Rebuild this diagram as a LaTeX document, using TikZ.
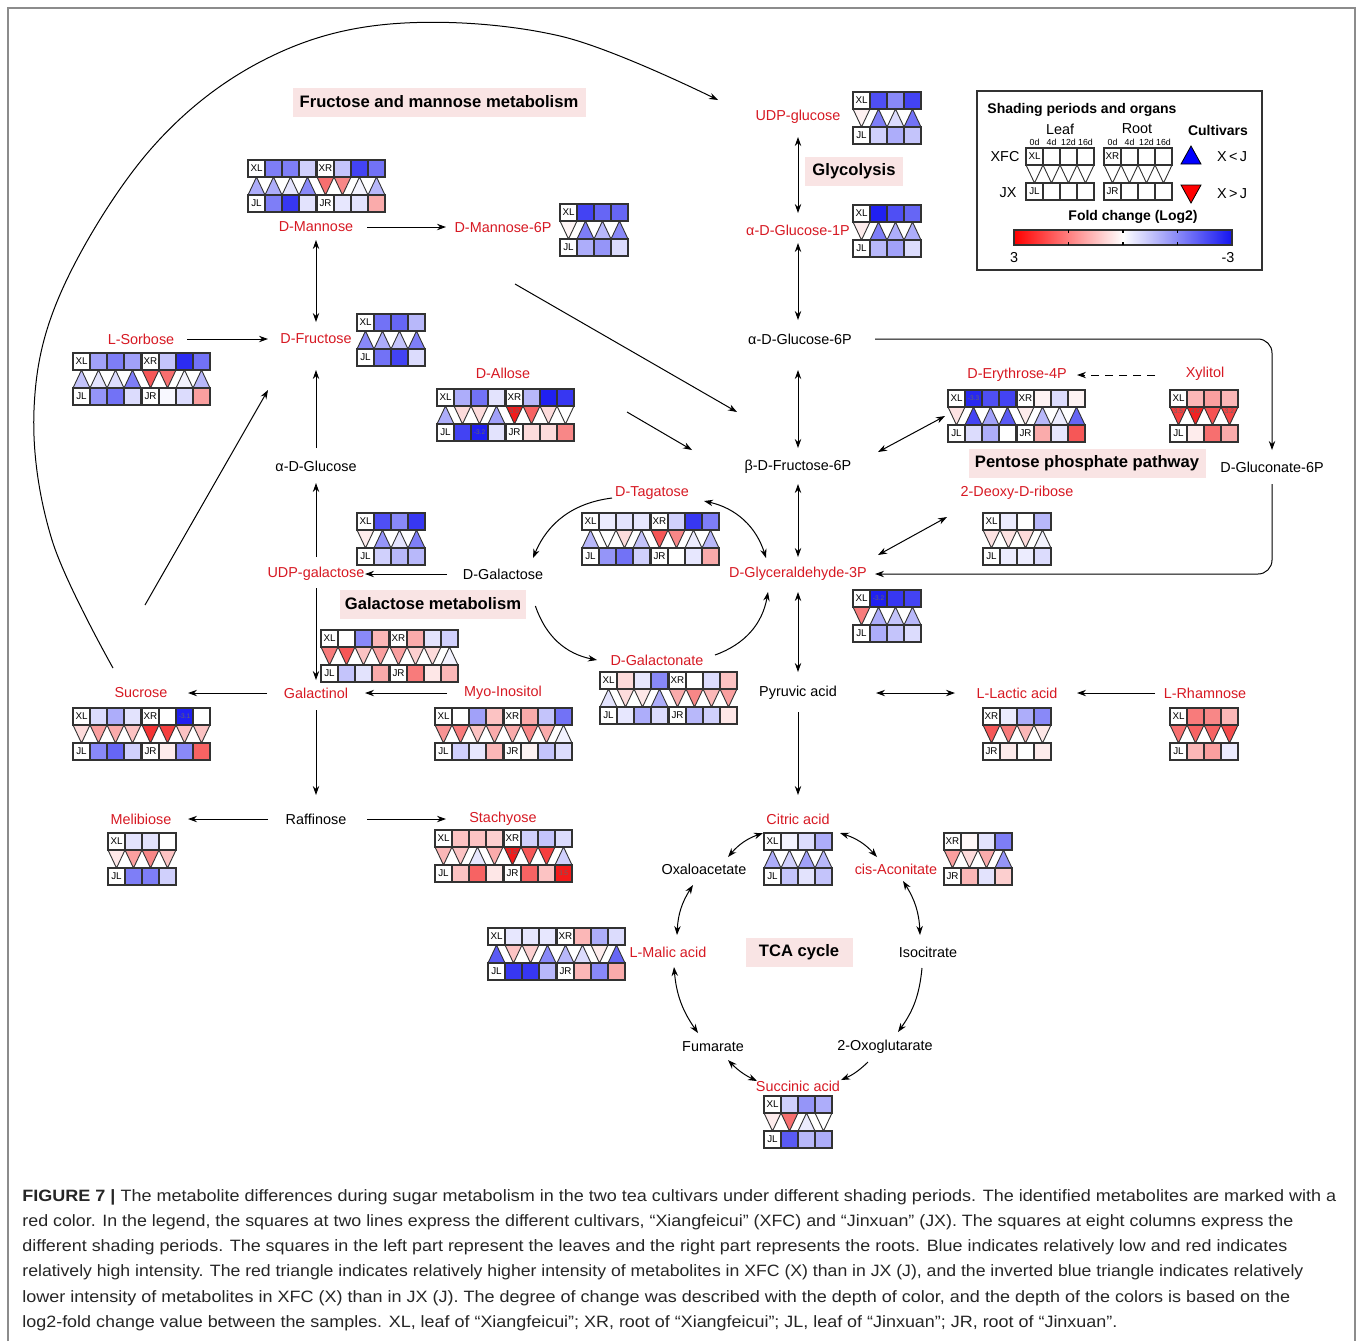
\documentclass[tikz,border=0pt]{standalone}
\usepackage{fontspec}
\setmainfont{Liberation Sans}
\usepackage{graphicx}
\usetikzlibrary{arrows.meta,calc}
\definecolor{mred}{RGB}{215,25,35}
\definecolor{hb}{RGB}{20,20,240}
\definecolor{hr}{RGB}{242,15,15}
\definecolor{hdrpink}{RGB}{249,228,228}
\definecolor{cellc}{RGB}{50,50,50}
\newcommand\fs[1]{\fontsize{#1}{#1}\selectfont}
\tikzset{
 lab/.style={inner sep=0pt, font=\fs{7.2}},
 met/.style={lab, text=mred},
 cpd/.style={lab, text=black},
 hdrbox/.style={fill=hdrpink, font=\bfseries\fs{8.3}, inner sep=0pt, minimum height=14.5pt},
 ar/.style={-{Stealth[length=4.5pt,width=3.2pt]}, line width=0.5pt},
 dar/.style={{Stealth[length=4.5pt,width=3.2pt]}-{Stealth[length=4.5pt,width=3.2pt]}, line width=0.5pt},
 cellb/.style={draw=cellc, line width=0.55pt},
 tri/.style={draw=cellc, line width=0.45pt, line join=miter},
 cl/.style={font=\fs{4.9}, inner sep=0pt},
 valtxt/.style={font=\fs{3.3}, inner sep=0pt, text=black!60},
 capt/.style={anchor=base west, inner sep=0pt, font=\fs{8.2}, text=black!85},
}
% heat-map group: x, y, top label, bottom label, top colours, triangles, bottom colours
\newcommand\hmg[7]{%
\begin{scope}[shift={(#1,#2)}]
 \foreach \d/\c [count=\i from 0] in {#6}{%
   \if\d U%
     \filldraw[tri,fill=\c] (\i*17,35) -- ++(17,0) -- ++(-8.5,-18) -- cycle;
   \else
     \filldraw[tri,fill=\c] (\i*17,17) -- ++(17,0) -- ++(-8.5,18) -- cycle;
   \fi
 }
 \filldraw[cellb,fill=white] (0,0) rectangle (17,17);
 \node[cl] at (8.5,8.5) {#3};
 \foreach \c [count=\i] in {#5}{\filldraw[cellb,fill=\c] (\i*17,0) rectangle ++(17,17);}
 \filldraw[cellb,fill=white] (0,35) rectangle (17,52);
 \node[cl] at (8.5,43.5) {#4};
 \foreach \c [count=\i] in {#7}{\filldraw[cellb,fill=\c] (\i*17,35) rectangle ++(17,17);}
 \draw[draw=cellc, line width=0.75pt] (0,0) rectangle (68,17) (0,35) rectangle (68,52);
\end{scope}}

\begin{document}
\begin{tikzpicture}[x=0.5pt,y=-0.5pt]
\useasboundingbox (0,0) rectangle (1358,1341);
\fill[white] (0,0) rectangle (1358,1341);
\draw[black!45, line width=0.6pt] (8,1341) -- (8,8) -- (1355,8) -- (1355,1341);

% ---------- headers
\node[hdrbox, minimum width=146.5pt] (hfm) at (439,102) {Fructose and mannose metabolism};
\node[hdrbox, minimum width=49pt] (hgly) at (854,171) {Glycolysis};
\node[hdrbox, minimum width=118.5pt] (hppp) at (1087,463) {Pentose phosphate pathway};
\node[hdrbox, minimum width=93pt] (hgal) at (433,604) {Galactose metabolism};
\node[hdrbox, minimum width=53.5pt] (htca) at (799,952) {TCA cycle};

% ---------- metabolite labels
\node[met] (udpglc) at (798,117) {UDP-glucose};
\node[met] (g1p) at (798,230) {α-D-Glucose-1P};
\node[met] (man) at (316,227) {D-Mannose};
\node[met] (man6p) at (503,228) {D-Mannose-6P};
\node[met] (sor) at (141,339) {L-Sorbose};
\node[met] (fru) at (316,339) {D-Fructose};
\node[cpd] (g6p) at (800,339) {α-D-Glucose-6P};
\node[met] (allose) at (503,373) {D-Allose};
\node[met] (e4p) at (1017,375) {D-Erythrose-4P};
\node[met] (xyl) at (1205,374) {Xylitol};
\node[cpd] (aglc) at (316,466) {α-D-Glucose};
\node[cpd] (f6p) at (798,467) {β-D-Fructose-6P};
\node[cpd] (glc6p) at (1272,467) {D-Gluconate-6P};
\node[met] (tag) at (652,493) {D-Tagatose};
\node[met] (deoxy) at (1017,493) {2-Deoxy-D-ribose};
\node[met] (udpgal) at (316,574) {UDP-galactose};
\node[cpd] (gal) at (503,574) {D-Galactose};
\node[met] (g3p) at (798,574) {D-Glyceraldehyde-3P};
\node[met] (galn) at (657,660) {D-Galactonate};
\node[met] (suc) at (141,693) {Sucrose};
\node[met] (galol) at (316,693) {Galactinol};
\node[met] (myo) at (503,693) {Myo-Inositol};
\node[cpd] (pyr) at (798,693) {Pyruvic acid};
\node[met] (lac) at (1017,693) {L-Lactic acid};
\node[met] (rha) at (1205,693) {L-Rhamnose};
\node[met] (mel) at (141,819) {Melibiose};
\node[cpd] (raf) at (316,819) {Raffinose};
\node[met] (sta) at (503,819) {Stachyose};
\node[met] (cit) at (798,819) {Citric acid};
\node[cpd] (oaa) at (704,869) {Oxaloacetate};
\node[met] (cis) at (896,869) {cis-Aconitate};
\node[met] (mal) at (668,952) {L-Malic acid};
\node[cpd] (iso) at (928,952) {Isocitrate};
\node[cpd] (fum) at (713,1047) {Fumarate};
\node[cpd] (oxo) at (885,1047) {2-Oxoglutarate};
\node[met] (succ) at (798,1086) {Succinic acid};

% ---------- connectors
\draw[ar] plot[smooth, tension=0.6] coordinates {($(suc)+(-28,-25)$) (52,540) (34,410) (62,290) (150,150) (260,62) (390,24) (560,36) ($(udpglc)+(-80,-17)$)};
\draw[ar] ($(man)+(51,0)$) -- ($(man6p)+(-57,-1)$);
\draw[dar] ($(man)+(0,13)$) -- ($(fru)+(0,-17)$);
\draw[ar] ($(sor)+(46,0)$) -- ($(fru)+(-48,0)$);
\draw[ar] ($(aglc)+(0,-18)$) -- ($(fru)+(0,31)$);
\draw[ar] ($(udpgal)+(0,-17)$) -- ($(aglc)+(0,17)$);
\draw[ar] ($(suc)+(4,-88)$) -- ($(fru)+(-48,51)$);
\draw[ar] ($(gal)+(-56,0)$) -- ($(udpgal)+(49,0)$);
\draw[ar] ($(udpgal)+(0,14)$) -- ($(galol)+(0,-13)$);
\draw[ar] ($(galol)+(-49,0)$) -- ($(suc)+(47,0)$);
\draw[ar] ($(myo)+(-56,0)$) -- ($(galol)+(49,0)$);
\draw[ar] ($(galol)+(0,17)$) -- ($(raf)+(0,-24)$);
\draw[ar] ($(raf)+(-48,0)$) -- ($(mel)+(47,0)$);
\draw[ar] ($(raf)+(51,0)$) -- ($(sta)+(-57,0)$);
\draw[ar] ($(man6p)+(12,56)$) -- ($(f6p)+(-61,-55)$);
\draw[ar] ($(allose)+(124,39)$) -- ($(f6p)+(-106,-17)$);
\draw[dar] ($(udpglc)+(0,20)$) -- ($(g1p)+(0,-17)$);
\draw[dar] ($(g1p)+(0,13)$) -- ($(g6p)+(-2,-19)$);
\draw[dar] ($(g6p)+(-2,31)$) -- ($(f6p)+(0,-19)$);
\draw[dar] ($(f6p)+(0,17)$) -- ($(g3p)+(0,-17)$);
\draw[dar] ($(g3p)+(0,18)$) -- ($(pyr)+(0,-21)$);
\draw[ar] ($(pyr)+(0,19)$) -- ($(cit)+(0,-24)$);
\draw[dar] ($(pyr)+(78,0)$) -- ($(lac)+(-62,0)$);
\draw[ar] ($(rha)+(-50,0)$) -- ($(lac)+(60,0)$);
\draw[ar, dash pattern=on 4pt off 3pt] ($(xyl)+(-50,1)$) -- ($(e4p)+(60,0)$);
\draw[dar] ($(f6p)+(80,-15)$) -- ($(e4p)+(-72,41)$);
\draw[dar] ($(g3p)+(80,-19)$) -- ($(deoxy)+(-70,24)$);
\draw[ar, rounded corners=7pt] ($(g6p)+(75,0)$) -- (g6p -| glc6p) -- ($(glc6p)+(0,-17)$);
\draw[ar, rounded corners=7pt] ($(glc6p)+(0,17)$) -- (glc6p |- g3p) -- ($(g3p)+(77,0)$);
\draw[ar] ($(tag)+(-40,5)$) to[bend right=30] ($(gal)+(30,-16)$);
\draw[dar] ($(tag)+(52,8)$) to[bend left=30] ($(g3p)+(-32,-16)$);
\draw[ar] ($(hgal.east)+(9,2)$) to[bend right=30] ($(galn)+(-60,0)$);
\draw[ar] ($(galn)+(58,-5)$) to[bend right=30] ($(g3p)+(-30,18)$);
% TCA cycle
\draw[dar] ($(cit)+(-35,14)$) to[bend right=15] ($(oaa)+(24,-12)$);
\draw[dar] ($(cit)+(42,14)$) to[bend left=15] ($(cis)+(-19,-12)$);
\draw[dar] ($(cis)+(7,12)$) to[bend left=15] ($(iso)+(-8,-17)$);
\draw[ar] ($(iso)+(-6,16)$) to[bend left=15] ($(oxo)+(13,-15)$);
\draw[ar] ($(oxo)+(-17,15)$) to[bend left=10] ($(succ)+(43,-6)$);
\draw[dar] ($(fum)+(15,13)$) to[bend right=10] ($(succ)+(-41,-5)$);
\draw[dar] ($(mal)+(6,15)$) to[bend right=15] ($(fum)+(-15,-14)$);
\draw[dar] ($(oaa)+(-11,16)$) to[bend right=15] ($(mal)+(9,-17)$);

% ---------- heat maps
\hmg{853}{92}{XL}{JL}{hb!75,hb!50,hb!80}{D/hr!6,U/hb!55,U/hb!15,U/hb!60}{hb!20,hb!35,hb!25}
\hmg{853}{205}{XL}{JL}{hb!95,hb!75,hb!65}{D/hr!8,U/hb!55,U/hb!35,U/hb!35}{hb!30,hb!40,hb!15}
\hmg{248}{160}{XL}{JL}{hb!55,hb!55,hb!20}{U/hb!35,U/hb!35,U/hb!12,U/hb!50}{hb!55,hb!85,hb!12}
\hmg{317}{160}{XR}{JR}{hb!25,hb!80,hb!60}{D/hr!60,D/hr!50,U/hb!5,U/hb!30}{hb!10,hb!12,hr!35}
\hmg{560}{204}{XL}{JL}{hb!80,hb!65,hb!65}{D/hr!4,U/hb!55,U/hb!30,U/hb!50}{hb!35,hb!45,hb!15}
\hmg{357}{314}{XL}{JL}{hb!60,hb!65,hb!30}{U/hb!50,U/hb!35,U/hb!25,U/hb!55}{hb!60,hb!80,hb!15}
\hmg{73}{353}{XL}{JL}{hb!40,hb!55,hb!40}{U/hb!25,U/hb!12,U/hb!15,U/hb!55}{hb!45,hb!60,hb!15}
\hmg{142}{353}{XR}{JR}{hb!25,hb!90,hb!60}{D/hr!70,D/hr!60,U/hb!5,U/hb!30}{hb!3,hb!15,hr!40}
\hmg{437}{389}{XL}{JL}{hb!35,hb!60,hb!12}{U/hb!35,D/hr!15,D/hr!15,U/hb!40}{hb!80,hb!95,hb!12}
\hmg{506}{389}{XR}{JR}{hb!30,hb!95,hb!85}{D/hr!95,D/hr!65,D/hr!15,D/white}{hr!15,hr!15,hr!50}
\hmg{948}{390}{XL}{JL}{hb!92,hb!75,hb!80}{D/hr!12,U/hb!80,U/hb!40,U/hb!70}{hb!15,hb!35,white}
\hmg{1017}{390}{XR}{JR}{hr!5,hb!15,hr!5}{D/hr!8,U/hb!30,U/hb!8,U/hb!65}{hr!35,hb!10,hr!70}
\hmg{1170}{390}{XL}{JL}{hr!30,hr!40,hr!30}{D/hr!80,D/hr!92,D/hr!72,D/hr!78}{hr!8,hr!60,hr!35}
\hmg{582}{513}{XL}{JL}{hb!8,hb!12,hb!10}{U/hb!30,D/white,D/hr!15,U/hb!25}{hb!45,hb!60,hb!20}
\hmg{651}{513}{XR}{JR}{hb!20,hb!85,hb!55}{D/hr!70,D/hr!50,U/hb!8,U/hb!30}{white,hb!10,hr!35}
\hmg{983}{513}{XL}{JL}{hb!8,white,hb!30}{D/hr!12,D/hr!12,D/hr!15,U/hb!5}{hb!8,hb!8,hb!15}
\hmg{357}{513}{XL}{JL}{hb!75,hb!50,hb!85}{D/hr!8,U/hb!45,U/hb!12,U/hb!55}{hb!20,hb!30,hb!30}
\hmg{853}{590}{XL}{JL}{hb!95,hb!85,hb!80}{D/hr!55,U/hb!35,U/hb!25,U/hb!30}{hb!35,hb!25,hb!15}
\hmg{321}{630}{XL}{JL}{white,hb!50,hr!30}{D/hr!55,D/hr!70,D/hr!25,D/hr!40}{hb!25,hb!12,hr!35}
\hmg{390}{630}{XR}{JR}{hr!35,hb!12,hb!20}{D/hr!40,D/hr!20,D/hr!15,U/hb!5}{hr!55,hr!10,hr!30}
\hmg{600}{672}{XL}{JL}{hr!15,hb!10,hb!50}{U/hb!12,D/hr!15,D/hr!10,U/hb!35}{hb!10,hb!35,hb!15}
\hmg{669}{672}{XR}{JR}{white,hb!15,hr!25}{D/hr!35,D/hr!50,D/hr!30,D/hr!40}{hb!30,hb!20,hr!10}
\hmg{73}{708}{XL}{JL}{hb!15,hb!35,hb!12}{D/hr!15,D/hr!40,D/hr!35,D/hr!25}{hb!50,hb!65,hb!20}
\hmg{142}{708}{XR}{JR}{white,hb!95,white}{D/hr!85,D/hr!80,D/hr!25,D/hr!25}{hr!8,hb!50,hr!65}
\hmg{435}{708}{XL}{JL}{white,hb!40,hr!25}{D/hr!45,D/hr!55,D/hr!25,D/hr!35}{hb!20,hb!10,hr!30}
\hmg{504}{708}{XR}{JR}{hr!35,hb!25,hb!60}{D/hr!35,D/hr!50,D/hr!35,U/hb!5}{hr!5,hb!25,hb!15}
\hmg{983}{708}{XR}{JR}{hb!8,hb!35,hb!50}{D/hr!70,D/hr!55,D/hr!30,D/hr!10}{hr!8,white,hr!8}
\hmg{1170}{708}{XL}{JL}{hr!55,hr!50,hr!30}{D/hr!60,D/hr!65,D/hr!65,D/hr!75}{hr!30,hr!40,hb!8}
\hmg{108}{833}{XL}{JL}{hb!12,hb!12,white}{D/hr!10,D/hr!40,D/hr!50,D/hr!25}{hb!55,hb!55,hb!20}
\hmg{435}{830}{XL}{JL}{hr!25,hr!25,hr!20}{D/hr!30,D/hr!25,U/hb!10,D/hr!35}{hr!25,hr!65,hr!10}
\hmg{504}{830}{XR}{JR}{hb!20,hb!25,hb!15}{D/hr!95,D/hr!70,D/hr!80,U/hb!20}{hr!65,hr!25,hr!95}
\hmg{764}{833}{XL}{JL}{hb!5,hb!15,hb!35}{U/hb!35,U/hb!20,U/hb!40,U/hb!30}{hb!25,hb!12,hb!25}
\hmg{944}{833}{XR}{JR}{hr!3,hb!12,hb!55}{D/hr!40,D/hr!15,D/hr!35,U/hb!45}{hr!30,hb!12,hr!20}
\hmg{488}{928}{XL}{JL}{hb!10,hb!10,hb!10}{U/hb!70,D/hr!25,D/hr!20,U/hb!50}{hb!85,hb!85,hb!30}
\hmg{557}{928}{XR}{JR}{hr!30,hb!35,hb!15}{U/hb!30,U/hb!15,D/hr!8,U/hb!65}{hr!30,hb!50,hr!35}
\hmg{764}{1096}{XL}{JL}{hb!20,hb!45,hb!35}{D/hr!8,D/hr!60,U/hb!8,D/white}{hb!70,hb!30,hb!35}

% values printed in cells
\node[valtxt] (v1) at (514.5,411) {3.9};
\node[valtxt] (v2) at (479.5,432.5) {-3.2};
\node[valtxt] (v3) at (973.5,398.5) {-3.3};
\node[valtxt] (v4) at (1178.5,411) {3.5};
\node[valtxt] (v5) at (1195.5,411) {4.0};
\node[valtxt] (v6) at (1229.5,411) {3.2};
\node[valtxt] (v7) at (878.5,598.5) {-3.2};
\node[valtxt] (v8) at (184.5,716.5) {-3.1};
\node[valtxt] (v9) at (512.5,852) {3.5};
\node[valtxt] (v10) at (563.5,873.5) {3.5};

% ---------- legend
\draw[cellc, line width=0.8pt] (977,91) rectangle (1262,270);
\node[anchor=west, inner sep=0pt, font=\bfseries\fs{7}] (lgt) at (987,110) {Shading periods and organs};
\node[lab] (lleaf) at (1060,129) {Leaf};
\node[lab] (lroot) at (1137,129) {Root};
\node[inner sep=0pt, font=\bfseries\fs{7}] (lcult) at (1218,130) {Cultivars};
\foreach \x/\t [count=\k] in {1034.5/0d,1051.5/4d,1068.5/12d,1085.5/16d,1112.5/0d,1129.5/4d,1146.5/12d,1163.5/16d}
  \node[inner sep=0pt, font=\fs{4.4}] (per\k) at (\x,142) {\t};
\node[lab] (lxfc) at (1005,157) {XFC};
\node[lab] (ljx) at (1008,193) {JX};
\hmg{1026}{148}{XL}{JL}{white,white,white}{D/white,D/white,D/white,D/white}{white,white,white}
\hmg{1104}{148}{XR}{JR}{white,white,white}{D/white,D/white,D/white,D/white}{white,white,white}
\filldraw[fill=blue, draw=black, line width=0.4pt] (1181,164) -- (1201,164) -- (1191,146) -- cycle;
\filldraw[fill=red, draw=black, line width=0.4pt] (1181,185) -- (1201,185) -- (1191,203) -- cycle;
\node[lab] (lxj1) at (1232,157) {X\,<\,J};
\node[lab] (lxj2) at (1232,194) {X\,>\,J};
\node[inner sep=0pt, font=\bfseries\fs{7}] (lfc) at (1133,217) {Fold change (Log2)};
\shade[left color=red, right color=hb, middle color=white] (1014,230) rectangle (1232,245);
\draw[cellc, line width=0.6pt] (1014,230) rectangle (1232,245);
\foreach \x in {1068.5,1123,1177.5} \draw[black, line width=0.8pt] (\x,230) -- (\x,233) (\x,245) -- (\x,242);
\node[lab] (l3) at (1014,258) {3};
\node[lab] (lm3) at (1228,258) {-3};

% ---------- caption
\node[capt] (cap1) at (22,1201) {\resizebox{657pt}{\height}{\textbf{FIGURE 7 |} The metabolite differences during sugar metabolism in the two tea cultivars under different shading periods. The identified metabolites are marked with a}};
\node[capt] (cap2) at (22,1226) {\resizebox{635.5pt}{\height}{red color. In the legend, the squares at two lines express the different cultivars, “Xiangfeicui” (XFC) and “Jinxuan” (JX). The squares at eight columns express the}};
\node[capt] (cap3) at (22,1251) {\resizebox{632.5pt}{\height}{different shading periods. The squares in the left part represent the leaves and the right part represents the roots. Blue indicates relatively low and red indicates}};
\node[capt] (cap4) at (22,1276) {\resizebox{640.5pt}{\height}{relatively high intensity. The red triangle indicates relatively higher intensity of metabolites in XFC (X) than in JX (J), and the inverted blue triangle indicates relatively}};
\node[capt] (cap5) at (22,1302) {\resizebox{634pt}{\height}{lower intensity of metabolites in XFC (X) than in JX (J). The degree of change was described with the depth of color, and the depth of the colors is based on the}};
\node[capt] (cap6) at (22,1327) {\resizebox{547.5pt}{\height}{log2-fold change value between the samples. XL, leaf of “Xiangfeicui”; XR, root of “Xiangfeicui”; JL, leaf of “Jinxuan”; JR, root of “Jinxuan”.}};
\end{tikzpicture}
\end{document}
